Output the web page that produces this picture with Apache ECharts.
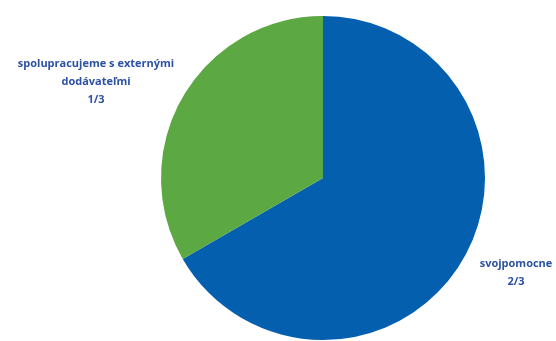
<!DOCTYPE html>
<html><head><meta charset="utf-8">
<script src="https://cdn.jsdelivr.net/npm/echarts@6/dist/echarts.min.js"></script>
<style>html,body{margin:0;padding:0;background:#fff}#c{width:556px;height:341px}</style>
</head><body><div id="c"></div>
<script>
const categories = ['svojpomocne', 'spolupracujeme s externými\ndodávateľmi'];
const values = [2, 1];
const shareLabels = ['2/3', '1/3'];
const colors = ['#0460ae', '#5ca843'];

const chart = echarts.init(document.getElementById('c'));
const labelPos = [
  {x: 516, y: 273},
  {x: 96, y: 82}
];
chart.setOption({
  animation: false,
  series: [{
    type: 'pie',
    center: [323, 178],
    radius: 162,
    startAngle: 90,
    clockwise: true,
    data: categories.map((n, i) => ({name: n, value: values[i], itemStyle: {color: colors[i]}})),
    label: {
      show: true,
      position: 'outside',
      formatter: p => p.name + '\n' + shareLabels[p.dataIndex],
      color: '#2c52a4',
      fontFamily: 'Open Sans',
      fontWeight: 'bold',
      fontSize: 11,
      lineHeight: 18,
      align: 'center',
      overflow: 'none',
      width: 300
    },
    labelLine: {show: false},
    labelLayout: p => ({x: labelPos[p.dataIndex].x, y: labelPos[p.dataIndex].y, align: 'center', verticalAlign: 'middle'})
  }]
});
</script></body></html>
